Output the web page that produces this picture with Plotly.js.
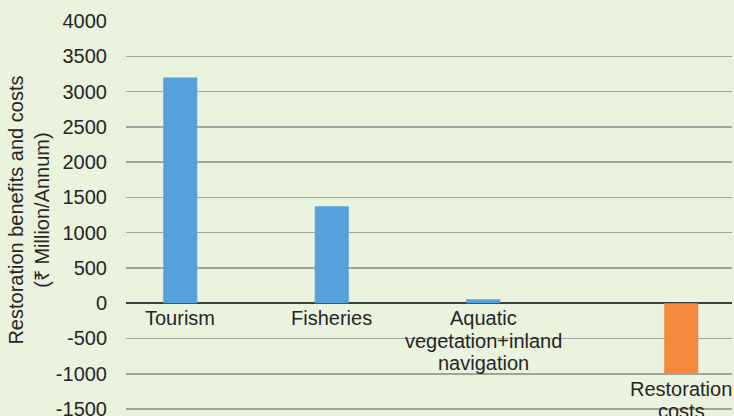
<!DOCTYPE html>
<html>
<head>
<meta charset="utf-8">
<script src="https://cdn.plot.ly/plotly-3.0.1.min.js"></script>
<style>
html,body{margin:0;padding:0;background:#eaf3de;}
#chart{width:734px;height:416px;}
</style>
</head>
<body>
<div id="chart"></div>
<script>
// Data
const categories = ["Tourism", "Fisheries", "Aquatic vegetation+inland navigation", "Restoration costs"];
const categoryLabelLines = [["Tourism"], ["Fisheries"], ["Aquatic", "vegetation+inland", "navigation"], ["Restoration", "costs"]];
const benefits = [3200, 1375, 55, null];
const costs = [null, null, null, -1000];
const yTickValues = [-1500, -1000, -500, 0, 500, 1000, 1500, 2000, 2500, 3000, 3500, 4000];
const yTickLabels = ["-1500", "-1000", "-500", "0", "500", "1000", "1500", "2000", "2500", "3000", "3500", "4000"];

const FONT = "Liberation Sans, Arial, Helvetica, sans-serif";
const FS = 20;
const TXT = "#262626";

const catW = 606 / categories.length; // px per category
const barPx = 34;
const blueShiftPx = -21.5, orangeShiftPx = 25;

const traces = [
  {
    type: "bar", name: "Benefits", x: categories, y: benefits,
    width: barPx / catW, offset: (blueShiftPx - barPx / 2) / catW,
    marker: {color: "#56a0db", line: {width: 0}}, hoverinfo: "x+y"
  },
  {
    type: "bar", name: "Costs", x: categories, y: costs,
    width: barPx / catW, offset: (orangeShiftPx - barPx / 2) / catW,
    marker: {color: "#f5883d", line: {width: 0}}, hoverinfo: "x+y"
  }
];

const annotations = [];
categories.forEach((c, i) => {
  const neg = (costs[i] !== null && costs[i] < 0);
  const baseY = neg ? costs[i] : 0;
  const shift = neg ? orangeShiftPx : blueShiftPx;
  categoryLabelLines[i].forEach((line, j) => {
    annotations.push({
      xref: "x", yref: "y", x: c, y: baseY, xshift: shift,
      yanchor: "top", xanchor: "center", yshift: -2 - j * 22.5,
      text: line, showarrow: false,
      font: {family: FONT, size: FS, color: TXT}
    });
  });
});
annotations.push({
  xref: "paper", yref: "paper", x: (29 - 126) / 606, y: 0.52,
  xanchor: "center", yanchor: "middle", textangle: -90,
  text: "Restoration benefits and costs<br>(₹ Million/Annum)", showarrow: false,
  font: {family: FONT, size: FS, color: TXT}
});

const layout = {
  width: 734, height: 416,
  margin: {l: 126, r: 2, t: 21, b: 0, pad: 0},
  paper_bgcolor: "#eaf3de", plot_bgcolor: "#eaf3de",
  showlegend: false, barmode: "overlay",
  font: {family: FONT, size: FS, color: TXT},
  xaxis: {
    type: "category", categoryorder: "array", categoryarray: categories,
    range: [-0.5, categories.length - 0.5],
    showticklabels: false, showgrid: false, zeroline: false, showline: false, ticks: ""
  },
  yaxis: {
    range: [-1599, 4001],
    tickmode: "array", tickvals: yTickValues, ticktext: yTickLabels,
    ticklabeloverflow: "allow",
    showgrid: true, gridcolor: "#a3a3a3", gridwidth: 1.6,
    zeroline: true, zerolinecolor: "#3c3c3c", zerolinewidth: 2,
    showline: false, ticks: "outside", ticklen: 14, tickcolor: "rgba(0,0,0,0)",
    tickfont: {family: FONT, size: FS, color: TXT},
    automargin: false
  },
  annotations: annotations
};

Plotly.newPlot("chart", traces, layout, {displayModeBar: false, staticPlot: true});
</script>
</body>
</html>
